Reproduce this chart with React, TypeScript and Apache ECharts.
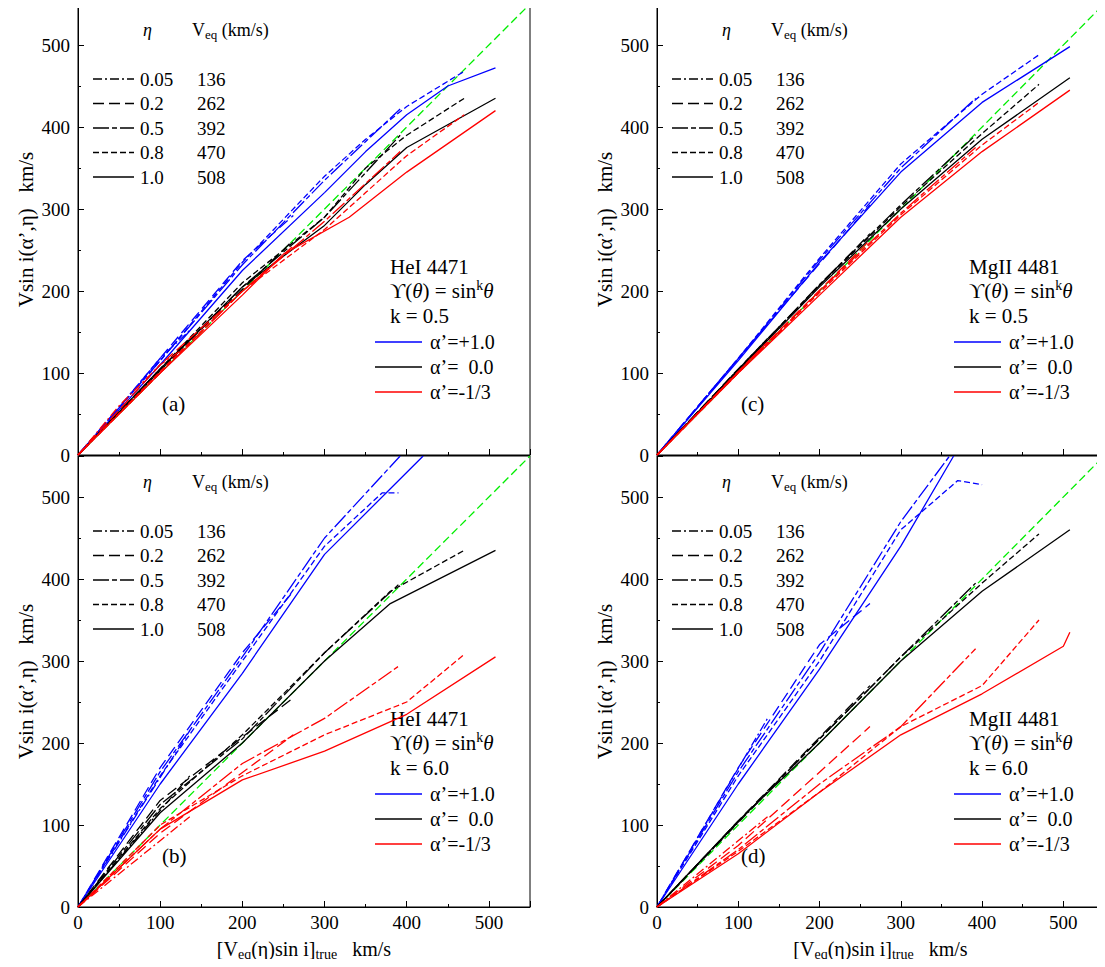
import React, { useEffect, useRef } from 'react';
import * as echarts from 'echarts';

type Pt = [number, number];

const etaLabels = ['0.05', '0.2', '0.5', '0.8', '1.0'];
const veqLabels = ['136', '262', '392', '470', '508'];
const dashStyles: any[] = [[9, 3, 2, 3], [11, 5], [16, 3, 5, 3], [6, 3], 'solid'];
const colors = { blue: '#0000ff', black: '#000000', red: '#ff0000' };

// panel (a): HeI 4471, k = 0.5
const aBlue: Pt[][] = [
  [[0, 0], [50, 58], [100, 118], [136, 152]],
  [[0, 0], [50, 58], [100, 118], [200, 237], [262, 292]],
  [[0, 0], [100, 115], [200, 232], [300, 335], [392, 422]],
  [[0, 0], [50, 58], [100, 115], [200, 235], [300, 340], [350, 385], [400, 425], [470, 468]],
  [[0, 0], [50, 55], [100, 110], [200, 225], [300, 320], [350, 370], [400, 415], [450, 450], [508, 472]],
];
const aBlack: Pt[][] = [
  [[0, 0], [136, 140]],
  [[0, 0], [100, 105], [262, 262]],
  [[0, 0], [100, 103], [200, 205], [300, 290], [392, 390]],
  [[0, 0], [100, 105], [200, 210], [300, 290], [350, 350], [400, 390], [470, 435]],
  [[0, 0], [100, 105], [200, 205], [300, 280], [350, 330], [400, 375], [508, 435]],
];
const aRed: Pt[][] = [
  [[0, 0], [50, 60], [100, 110], [136, 135]],
  [[0, 0], [100, 110], [262, 255]],
  [[0, 0], [100, 100], [200, 200], [300, 285], [392, 370]],
  [[0, 0], [100, 102], [200, 200], [300, 275], [350, 320], [400, 365], [470, 415]],
  [[0, 0], [100, 100], [200, 195], [250, 245], [330, 290], [400, 345], [508, 420]],
];
// panel (b): HeI 4471, k = 6.0
const bBlue: Pt[][] = [
  [[0, 0], [136, 215]],
  [[0, 0], [100, 170], [200, 310], [262, 385]],
  [[0, 0], [100, 165], [200, 305], [300, 450], [392, 550]],
  [[0, 0], [100, 160], [200, 300], [300, 440], [370, 505], [390, 505]],
  [[0, 0], [100, 150], [200, 285], [300, 430], [420, 550]],
];
const bBlack: Pt[][] = [
  [[0, 0], [136, 160]],
  [[0, 0], [100, 130], [262, 255]],
  [[0, 0], [100, 125], [200, 205], [300, 310], [392, 395]],
  [[0, 0], [100, 120], [200, 210], [300, 310], [380, 385], [470, 435]],
  [[0, 0], [100, 115], [200, 200], [300, 300], [380, 370], [508, 435]],
];
const bRed: Pt[][] = [
  [[0, 0], [136, 110]],
  [[0, 0], [100, 90], [262, 210]],
  [[0, 0], [100, 95], [200, 175], [300, 230], [392, 295]],
  [[0, 0], [100, 100], [200, 160], [300, 210], [400, 250], [470, 308]],
  [[0, 0], [100, 95], [200, 155], [300, 190], [400, 235], [508, 305]],
];
// panel (c): MgII 4481, k = 0.5
const cBlue: Pt[][] = [
  [[0, 0], [136, 160]],
  [[0, 0], [100, 118], [262, 305]],
  [[0, 0], [100, 117], [200, 238], [300, 350], [392, 435]],
  [[0, 0], [100, 118], [200, 240], [300, 355], [400, 440], [470, 488]],
  [[0, 0], [100, 115], [200, 235], [300, 345], [400, 430], [508, 498]],
];
const cBlack: Pt[][] = [
  [[0, 0], [136, 142]],
  [[0, 0], [100, 105], [262, 270]],
  [[0, 0], [100, 104], [200, 208], [300, 305], [392, 390]],
  [[0, 0], [100, 104], [200, 207], [300, 303], [400, 392], [470, 452]],
  [[0, 0], [100, 103], [200, 205], [300, 300], [400, 385], [508, 460]],
];
const cRed: Pt[][] = [
  [[0, 0], [136, 138]],
  [[0, 0], [100, 102], [262, 262]],
  [[0, 0], [100, 101], [200, 200], [300, 295], [392, 375]],
  [[0, 0], [100, 100], [200, 198], [300, 293], [400, 378], [470, 430]],
  [[0, 0], [100, 100], [200, 195], [300, 290], [400, 370], [508, 445]],
];
// panel (d): MgII 4481, k = 6.0
const dBlue: Pt[][] = [
  [[0, 0], [136, 230]],
  [[0, 0], [100, 170], [200, 320], [262, 370]],
  [[0, 0], [100, 165], [200, 310], [300, 470], [360, 550]],
  [[0, 0], [100, 160], [200, 300], [300, 460], [370, 520], [400, 515]],
  [[0, 0], [100, 150], [200, 290], [300, 440], [365, 550]],
];
const dBlack: Pt[][] = [
  [[0, 0], [136, 140]],
  [[0, 0], [100, 105], [262, 270]],
  [[0, 0], [100, 104], [200, 205], [300, 305], [392, 395]],
  [[0, 0], [100, 104], [200, 205], [300, 305], [400, 395], [470, 455]],
  [[0, 0], [100, 105], [200, 200], [300, 300], [400, 385], [508, 460]],
];
const dRed: Pt[][] = [
  [[0, 0], [136, 110]],
  [[0, 0], [100, 75], [262, 220]],
  [[0, 0], [100, 70], [200, 150], [300, 220], [392, 315]],
  [[0, 0], [100, 68], [200, 140], [300, 220], [400, 270], [470, 350]],
  [[0, 0], [100, 65], [200, 140], [300, 210], [400, 260], [500, 318], [508, 335]],
];
const diagonal: Pt[] = [[0, 0], [550, 550]];

const panels = [
  { tag: '(a)', line: 'HeI 4471', k: '0.5', blue: aBlue, black: aBlack, red: aRed, dx: 0, dy: 0 },
  { tag: '(b)', line: 'HeI 4471', k: '6.0', blue: bBlue, black: bBlack, red: bRed, dx: 0, dy: 452 },
  { tag: '(c)', line: 'MgII 4481', k: '0.5', blue: cBlue, black: cBlack, red: cRed, dx: 579, dy: 0 },
  { tag: '(d)', line: 'MgII 4481', k: '6.0', blue: dBlue, black: dBlack, red: dRed, dx: 579, dy: 452 },
];

const FONT = '"Liberation Serif", "DejaVu Serif", serif';

const App: React.FC = () => {
  const chartRef = useRef<HTMLDivElement | null>(null);

  useEffect(() => {
    if (!chartRef.current) return;
    const chart = echarts.init(chartRef.current, undefined, { renderer: 'svg' });

    const grids = panels.map(p => ({
      left: 78 + p.dx, top: 4 + p.dy, width: p.dx ? 447 : 452, height: 451,
      show: true, borderColor: '#000', borderWidth: 1, backgroundColor: 'transparent',
    }));

    const xNameRich = {
      a: { fontSize: 20, fontFamily: FONT, color: '#000' },
      s: { fontSize: 14, fontFamily: FONT, color: '#000', padding: [10, 0, 0, 0] },
    };
    const xAxes = panels.map((p, i) => ({
      type: 'value', gridIndex: i, min: 0, max: 550, interval: 100,
      axisLine: { lineStyle: { color: '#000' } },
      axisTick: { inside: true, length: 6, lineStyle: { color: '#000' } },
      minorTick: { show: true, splitNumber: 2, length: 3, lineStyle: { color: '#000' } },
      splitLine: { show: false },
      axisLabel: { show: p.dy > 0, showMaxLabel: false, fontSize: 19, fontFamily: FONT, color: '#000', margin: 6 },
      name: p.dy > 0 ? '{a|[V}{s|eq}{a|(η)sin i]}{s|true}{a|   km/s}' : '',
      nameLocation: 'middle', nameGap: 30,
      nameTextStyle: { rich: xNameRich },
    }));
    const yAxes = panels.map((p, i) => ({
      type: 'value', gridIndex: i, min: 0, max: 550, interval: 100,
      axisLine: { lineStyle: { color: '#000' } },
      axisTick: { inside: true, length: 6, lineStyle: { color: '#000' } },
      minorTick: { show: true, splitNumber: 2, length: 3, lineStyle: { color: '#000' } },
      splitLine: { show: false },
      axisLabel: { showMaxLabel: false, fontSize: 19, fontFamily: FONT, color: '#000', margin: 8 },
      name: 'Vsin i(α’,η)   km/s',
      nameLocation: 'middle', nameGap: 42,
      nameTextStyle: { fontSize: 21, fontFamily: FONT, color: '#000' },
    }));

    const series: any[] = [];
    panels.forEach((p, i) => {
      series.push({
        type: 'line', xAxisIndex: i, yAxisIndex: i, data: diagonal, showSymbol: false,
        lineStyle: { color: '#00ee00', width: 1.3, type: [8, 4] }, z: 1,
      });
      (['blue', 'black', 'red'] as const).forEach(c => {
        (p as any)[c].forEach((pts: Pt[], j: number) => {
          series.push({
            type: 'line', xAxisIndex: i, yAxisIndex: i, data: pts, showSymbol: false,
            lineStyle: { color: colors[c], width: 1.3, type: dashStyles[j] }, z: 2,
          });
        });
      });
    });

    const txt = (x: number, y: number, text: string, extra: any = {}) => ({
      type: 'text', x, y, silent: true,
      style: { text, fontSize: 19, fontFamily: FONT, fill: '#000', textVerticalAlign: 'middle', ...extra },
    });
    const seg = (x1: number, y: number, x2: number, stroke: string, dash: any) => ({
      type: 'line', shape: { x1, y1: y, x2, y2: y }, silent: true,
      style: { stroke, lineWidth: 1.3, lineDash: dash === 'solid' ? null : dash },
    });

    const graphics: any[] = [];
    panels.forEach(p => {
      const X = p.dx, Y = p.dy;
      graphics.push(txt(143 + X, 30 + Y, 'η', { fontStyle: 'italic', fontSize: 18 }));
      graphics.push(txt(192 + X, 30 + Y, '{a|V}{s|eq}{a| (km/s)}', {
        rich: { a: { fontSize: 18, fontFamily: FONT }, s: { fontSize: 13, fontFamily: FONT, padding: [8, 0, 0, 0] } },
      }));
      etaLabels.forEach((e, j) => {
        const y = 79 + j * 24.5 + Y;
        graphics.push(seg(93 + X, y, 134 + X, '#000', dashStyles[j]));
        graphics.push(txt(140 + X, y, e, { fontSize: 19 }));
        graphics.push(txt(197 + X, y, veqLabels[j], { fontSize: 19 }));
      });
      graphics.push(txt(390 + X, 267 + Y, p.line, { fontSize: 21 }));
      graphics.push(txt(390 + X, 291 + Y, '{a|ϒ(}{i|θ}{a|) = sin}{p|k}{i|θ}', {
        rich: {
          a: { fontSize: 21, fontFamily: FONT },
          i: { fontSize: 21, fontFamily: FONT, fontStyle: 'italic' },
          p: { fontSize: 14, fontFamily: FONT, padding: [0, 0, 12, 0] },
        },
      }));
      graphics.push(txt(390 + X, 316 + Y, 'k = ' + p.k, { fontSize: 21 }));
      const al = ["α’=+1.0", "α’=  0.0", "α’=-1/3"];
      const ac = [colors.blue, colors.black, colors.red];
      al.forEach((a, j) => {
        const y = 342 + j * 25 + Y;
        graphics.push(seg(375 + X, y, 422 + X, ac[j], 'solid'));
        graphics.push(txt(430 + X, y, a, { fontSize: 20, whiteSpace: 'pre' }));
      });
      graphics.push(txt(162 + X, 404 + Y, p.tag, { fontSize: 21 }));
    });

    chart.setOption({
      animation: false,
      grid: grids,
      xAxis: xAxes,
      yAxis: yAxes,
      series,
      graphic: graphics,
    });

    return () => chart.dispose();
  }, []);

  return <div ref={chartRef} style={{ width: 1105, height: 967, margin: -8 }} />;
};

export default App;
